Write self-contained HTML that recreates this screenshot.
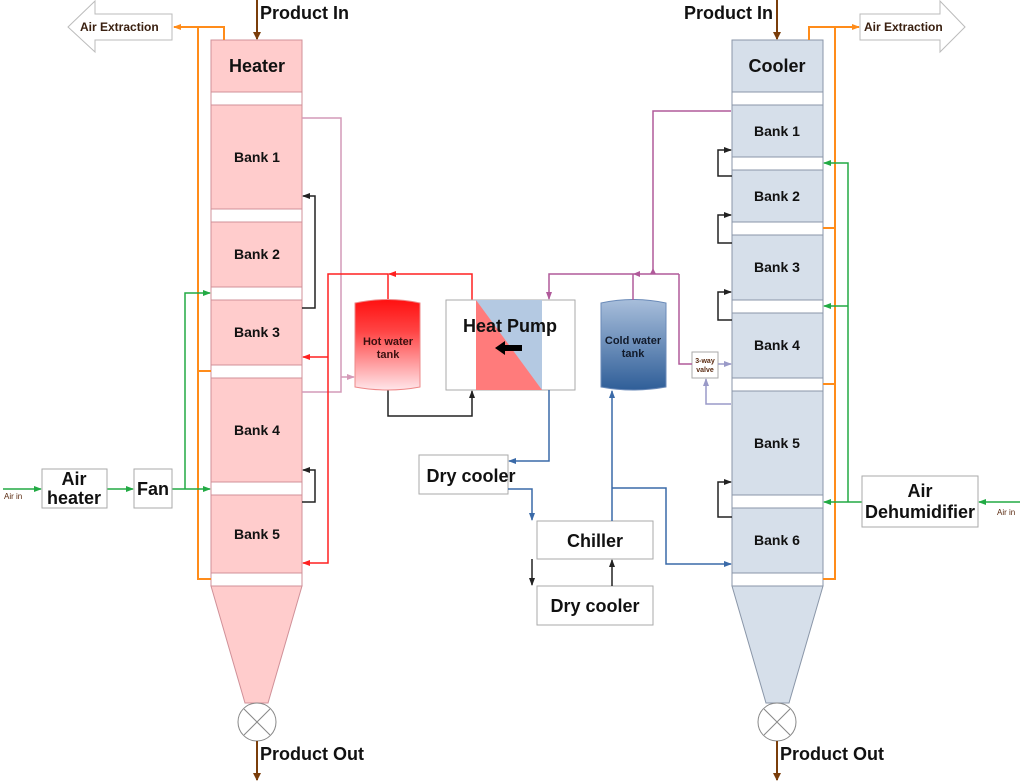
<!DOCTYPE html>
<html><head><meta charset="utf-8"><style>
html,body{margin:0;padding:0;background:#fff;}
svg{display:block;font-family:"Liberation Sans",sans-serif;font-weight:bold;}
</style></head><body>
<svg width="1024" height="781" viewBox="0 0 1024 781" xmlns="http://www.w3.org/2000/svg">
<defs>
<marker id="ao" markerWidth="8" markerHeight="8" refX="7" refY="4" orient="auto" markerUnits="userSpaceOnUse"><path d="M0,1 L8,4 L0,7z" fill="#ff8c1a"/></marker>
<marker id="ag" markerWidth="8" markerHeight="8" refX="7" refY="4" orient="auto" markerUnits="userSpaceOnUse"><path d="M0,1 L8,4 L0,7z" fill="#22aa44"/></marker>
<marker id="ak" markerWidth="8" markerHeight="8" refX="7" refY="4" orient="auto" markerUnits="userSpaceOnUse"><path d="M0,1 L8,4 L0,7z" fill="#222"/></marker>
<marker id="ar" markerWidth="8" markerHeight="8" refX="7" refY="4" orient="auto" markerUnits="userSpaceOnUse"><path d="M0,1 L8,4 L0,7z" fill="#ff2020"/></marker>
<marker id="ab" markerWidth="8" markerHeight="8" refX="7" refY="4" orient="auto" markerUnits="userSpaceOnUse"><path d="M0,1 L8,4 L0,7z" fill="#3a6aa8"/></marker>
<marker id="ap" markerWidth="8" markerHeight="8" refX="7" refY="4" orient="auto" markerUnits="userSpaceOnUse"><path d="M0,1 L8,4 L0,7z" fill="#b05a9a"/></marker>
<marker id="alp" markerWidth="8" markerHeight="8" refX="7" refY="4" orient="auto" markerUnits="userSpaceOnUse"><path d="M0,1 L8,4 L0,7z" fill="#9a9ac8"/></marker>
<marker id="apk" markerWidth="8" markerHeight="8" refX="7" refY="4" orient="auto" markerUnits="userSpaceOnUse"><path d="M0,1 L8,4 L0,7z" fill="#d49ab8"/></marker>
<marker id="abr" markerWidth="8" markerHeight="10" refX="7" refY="5" orient="auto" markerUnits="userSpaceOnUse"><path d="M0,1 L8,5 L0,9z" fill="#7a3d0a"/></marker>
<linearGradient id="hot" x1="0" y1="0" x2="0" y2="1"><stop offset="0" stop-color="#ff1010"/><stop offset="0.35" stop-color="#ff4444"/><stop offset="1" stop-color="#ffe6ea"/></linearGradient>
<linearGradient id="cold" x1="0" y1="0" x2="0" y2="1"><stop offset="0" stop-color="#a8bedb"/><stop offset="1" stop-color="#2f5e98"/></linearGradient>
</defs>

<g stroke="#d09098" stroke-width="1" fill="#ffcccc">
<rect x="211" y="40" width="91" height="52"/>
<rect x="211" y="92" width="91" height="13" fill="#fff"/>
<rect x="211" y="105" width="91" height="104"/>
<rect x="211" y="209" width="91" height="13" fill="#fff"/>
<rect x="211" y="222" width="91" height="65"/>
<rect x="211" y="287" width="91" height="13" fill="#fff"/>
<rect x="211" y="300" width="91" height="65"/>
<rect x="211" y="365" width="91" height="13" fill="#fff"/>
<rect x="211" y="378" width="91" height="104"/>
<rect x="211" y="482" width="91" height="13" fill="#fff"/>
<rect x="211" y="495" width="91" height="78"/>
<rect x="211" y="573" width="91" height="13" fill="#fff"/>
<path d="M211,586 L302,586 L268,703 L245,703z"/>
</g>
<circle cx="257" cy="722" r="19" fill="#fff" stroke="#888"/>
<path d="M244,709 L270,735 M270,709 L244,735" stroke="#888"/>

<g stroke="#8a96a8" stroke-width="1" fill="#d6dfea">
<rect x="732" y="40" width="91" height="52"/>
<rect x="732" y="92" width="91" height="13" fill="#fff"/>
<rect x="732" y="105" width="91" height="52"/>
<rect x="732" y="157" width="91" height="13" fill="#fff"/>
<rect x="732" y="170" width="91" height="52"/>
<rect x="732" y="222" width="91" height="13" fill="#fff"/>
<rect x="732" y="235" width="91" height="65"/>
<rect x="732" y="300" width="91" height="13" fill="#fff"/>
<rect x="732" y="313" width="91" height="65"/>
<rect x="732" y="378" width="91" height="13" fill="#fff"/>
<rect x="732" y="391" width="91" height="104"/>
<rect x="732" y="495" width="91" height="13" fill="#fff"/>
<rect x="732" y="508" width="91" height="65"/>
<rect x="732" y="573" width="91" height="13" fill="#fff"/>
<path d="M732,586 L823,586 L789,703 L766,703z"/>
</g>
<circle cx="777" cy="722" r="19" fill="#fff" stroke="#888"/>
<path d="M764,709 L790,735 M790,709 L764,735" stroke="#888"/>

<g stroke="#7a3d0a" stroke-width="2" fill="none">
<path d="M257,0 L257,39" marker-end="url(#abr)"/>
<path d="M777,0 L777,39" marker-end="url(#abr)"/>
<path d="M257,741 L257,780" marker-end="url(#abr)"/>
<path d="M777,741 L777,780" marker-end="url(#abr)"/>
</g>
<g font-size="18" fill="#111">
<text x="260" y="19">Product In</text>
<text x="773" y="19" text-anchor="end">Product In</text>
<text x="260" y="760">Product Out</text>
<text x="780" y="760">Product Out</text>
</g>

<path d="M68,27 L95,1 L95,14 L172,14 L172,40 L95,40 L95,52z" fill="#fff" stroke="#bbb"/>
<path d="M965,27 L940,1 L940,14 L860,14 L860,40 L940,40 L940,52z" fill="#fff" stroke="#bbb"/>
<g font-size="12" fill="#3a2010">
<text x="80" y="31">Air Extraction</text>
<text x="864" y="31">Air Extraction</text>
</g>

<g stroke="#ff8c1a" stroke-width="2" fill="none">
<path d="M224,40 L224,27 L174,27" marker-end="url(#ao)"/>
<path d="M198,27 L198,579 L211,579 M198,371 L211,371"/>
<path d="M809,40 L809,27 L859,27" marker-end="url(#ao)"/>
<path d="M835,27 L835,579 L823,579 M835,228 L823,228 M835,384 L823,384"/>
</g>

<g stroke="#22aa44" stroke-width="1.5" fill="none">
<path d="M3,489 L41,489" marker-end="url(#ag)"/>
<path d="M107,489 L133,489" marker-end="url(#ag)"/>
<path d="M172,489 L210,489" marker-end="url(#ag)"/>
<path d="M185,489 L185,293 L210,293" marker-end="url(#ag)"/>
<path d="M1020,502 L979,502" marker-end="url(#ag)"/>
<path d="M862,502 L824,502" marker-end="url(#ag)"/>
<path d="M848,502 L848,163 L824,163" marker-end="url(#ag)"/>
<path d="M848,306 L824,306" marker-end="url(#ag)"/>
</g>
<g font-size="8" fill="#5a2a10" font-weight="normal">
<text x="4" y="499">Air in</text>
<text x="997" y="515">Air in</text>
</g>

<g fill="#fff" stroke="#aaa">
<rect x="42" y="469" width="65" height="39"/>
<rect x="134" y="469" width="38" height="39"/>
<rect x="862" y="476" width="116" height="51"/>
<rect x="419" y="455" width="89" height="39"/>
<rect x="537" y="521" width="116" height="38"/>
<rect x="537" y="586" width="116" height="39"/>
<rect x="692" y="352" width="26" height="26"/>
</g>
<g font-size="18" fill="#111" text-anchor="middle">
<text x="74" y="485">Air</text>
<text x="74" y="504">heater</text>
<text x="153" y="495">Fan</text>
<text x="920" y="497">Air</text>
<text x="920" y="518">Dehumidifier</text>
<text x="471" y="482">Dry cooler</text>
<text x="595" y="547">Chiller</text>
<text x="595" y="612">Dry cooler</text>
<text x="257" y="72">Heater</text>
<text x="777" y="72">Cooler</text>
</g>
<g font-size="7" fill="#5a2a10" text-anchor="middle"><text x="705" y="363">3-way</text><text x="705" y="372">valve</text></g>
<g font-size="14" fill="#111" text-anchor="middle">
<text x="257" y="162">Bank 1</text><text x="257" y="259">Bank 2</text><text x="257" y="337">Bank 3</text>
<text x="257" y="435">Bank 4</text><text x="257" y="539">Bank 5</text>
<text x="777" y="136">Bank 1</text><text x="777" y="201">Bank 2</text><text x="777" y="272">Bank 3</text>
<text x="777" y="350">Bank 4</text><text x="777" y="448">Bank 5</text><text x="777" y="545">Bank 6</text>
</g>

<g stroke="#222" stroke-width="1.5" fill="none">
<path d="M302,308 L315,308 L315,196 L303,196" marker-end="url(#ak)"/>
<path d="M302,502 L315,502 L315,470 L303,470" marker-end="url(#ak)"/>
<path d="M732,176 L718,176 L718,150 L731,150" marker-end="url(#ak)"/>
<path d="M732,243 L718,243 L718,215 L731,215" marker-end="url(#ak)"/>
<path d="M732,320 L718,320 L718,292 L731,292" marker-end="url(#ak)"/>
<path d="M732,517 L718,517 L718,482 L731,482" marker-end="url(#ak)"/>
<path d="M388,390 L388,416 L472,416 L472,391" marker-end="url(#ak)"/>
<path d="M532,559 L532,585" marker-end="url(#ak)"/>
<path d="M612,586 L612,560" marker-end="url(#ak)"/>
</g>

<g stroke="#d49ab8" stroke-width="1.5" fill="none">
<path d="M302,118 L341,118 L341,392 L302,392"/>
<path d="M341,377 L354,377" marker-end="url(#apk)"/>
</g>

<g stroke="#ff2020" stroke-width="1.5" fill="none">
<path d="M472,300 L472,274 L389,274" marker-end="url(#ar)"/>
<path d="M388,300 L388,274 L328,274 L328,563 L303,563" marker-end="url(#ar)"/>
<path d="M328,357 L303,357" marker-end="url(#ar)"/>
</g>

<path d="M355,303 Q388,296 420,303 L420,387 Q388,393 355,387z" fill="url(#hot)" stroke="#e88"/>
<text x="388" y="345" font-size="11" fill="#3a1010" text-anchor="middle">Hot water</text>
<text x="388" y="358" font-size="11" fill="#3a1010" text-anchor="middle">tank</text>

<rect x="446" y="300" width="129" height="90" fill="#fff" stroke="#aaa"/>
<rect x="476" y="300" width="66" height="90" fill="#b4c9e2"/>
<path d="M476,300 L542,390 L476,390z" fill="#ff7b7b"/>
<text x="510" y="332" font-size="18" fill="#111" text-anchor="middle">Heat Pump</text>
<path d="M495,348 L505,341 L505,345 L522,345 L522,351 L505,351 L505,355z" fill="#000"/>

<path d="M601,303 Q633,296 666,303 L666,387 Q633,393 601,387z" fill="url(#cold)" stroke="#6a8ab8"/>
<text x="633" y="344" font-size="11" fill="#111a2a" text-anchor="middle">Cold water</text>
<text x="633" y="357" font-size="11" fill="#111a2a" text-anchor="middle">tank</text>

<g stroke="#b05a9a" stroke-width="1.5" fill="none">
<path d="M731,111 L653,111 L653,274"/>
<path d="M679,274 L549,274 L549,299" marker-end="url(#ap)"/>
<path d="M633,300 L633,274"/>
<path d="M679,274 L679,364 L692,364"/>
</g>
<path d="M633,274 L640,271 L640,277z M653,268 L650,274 L656,274z" fill="#b05a9a"/>
<g stroke="#9a9ac8" stroke-width="1.5" fill="none">
<path d="M718,364 L731,364" marker-end="url(#alp)"/>
<path d="M731,404 L706,404 L706,379" marker-end="url(#alp)"/>
</g>

<g stroke="#3a6aa8" stroke-width="1.5" fill="none">
<path d="M549,390 L549,461 L509,461" marker-end="url(#ab)"/>
<path d="M508,489 L532,489 L532,520" marker-end="url(#ab)"/>
<path d="M612,521 L612,391" marker-end="url(#ab)"/>
<path d="M612,488 L666,488 L666,564 L731,564" marker-end="url(#ab)"/>
</g>
</svg>
</body></html>
